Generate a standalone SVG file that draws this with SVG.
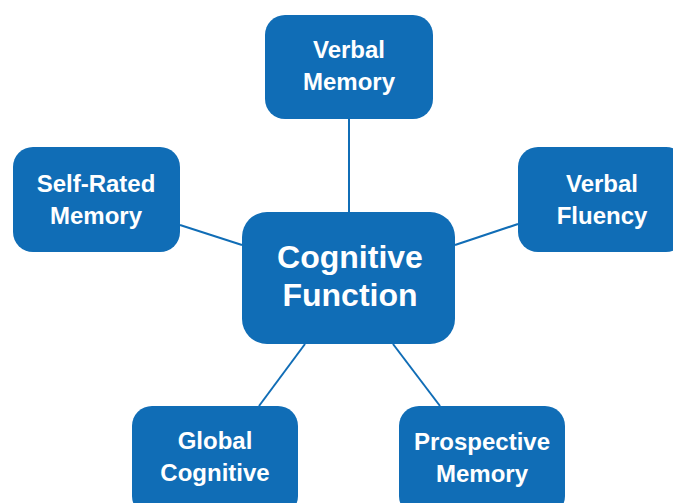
<svg xmlns="http://www.w3.org/2000/svg" width="673" height="503" viewBox="0 0 673 503">
<style>
.box{fill:#106DB6;}
.t{fill:#fff;font-family:"Liberation Sans",Arial,sans-serif;font-weight:bold;font-size:24px;text-anchor:middle;}
.big{font-size:32px;}
.c{stroke:#106DB6;stroke-width:2;fill:none;}
</style>
<rect width="673" height="503" fill="#fff"/>
<g id="connectors">
<line class="c" x1="349" y1="119" x2="349" y2="212"/>
<line class="c" x1="180" y1="225" x2="242" y2="245"/>
<line class="c" x1="455" y1="245" x2="518" y2="224"/>
<line class="c" x1="305" y1="344" x2="259" y2="406"/>
<line class="c" x1="393" y1="344" x2="440" y2="406"/>
</g>
<g id="verbal-memory">
<rect class="box" x="265" y="15" width="168" height="104" rx="20"/>
<text class="t" x="349" y="58">Verbal</text>
<text class="t" x="349" y="90">Memory</text>
</g>
<g id="self-rated-memory">
<rect class="box" x="13" y="147" width="167" height="105" rx="20"/>
<text class="t" x="96" y="192">Self-Rated</text>
<text class="t" x="96" y="224">Memory</text>
</g>
<g id="verbal-fluency">
<rect class="box" x="518" y="147" width="168" height="105" rx="20"/>
<text class="t" x="602" y="192">Verbal</text>
<text class="t" x="602" y="224">Fluency</text>
</g>
<g id="cognitive-function">
<rect class="box" x="242" y="212" width="213" height="132" rx="25"/>
<text class="t big" x="350" y="268">Cognitive</text>
<text class="t big" x="350" y="306">Function</text>
</g>
<g id="global-cognitive">
<rect class="box" x="132" y="406" width="166" height="110" rx="20"/>
<text class="t" x="215" y="449">Global</text>
<text class="t" x="215" y="481">Cognitive</text>
</g>
<g id="prospective-memory">
<rect class="box" x="399" y="406" width="166" height="110" rx="20"/>
<text class="t" x="482" y="450">Prospective</text>
<text class="t" x="482" y="482">Memory</text>
</g>
</svg>
